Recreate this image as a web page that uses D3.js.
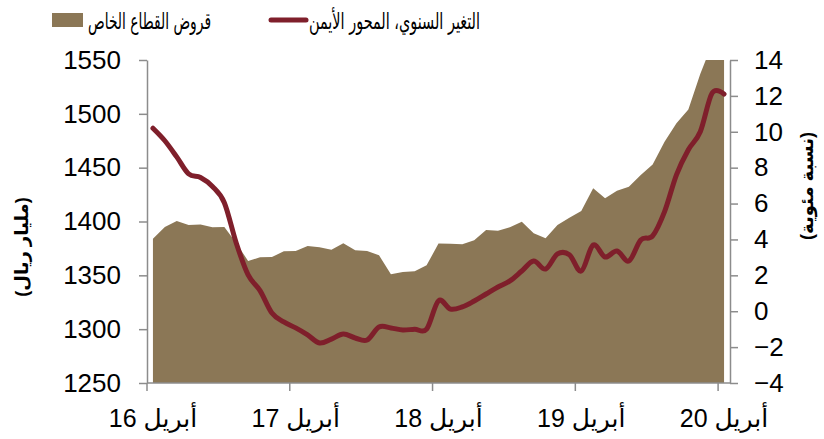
<!DOCTYPE html>
<html>
<head>
<meta charset="utf-8">
<script src="https://cdn.jsdelivr.net/npm/d3@7"></script>
<style>
  body { margin: 0; background: #fff; }
  svg { display: block; font-family: "Liberation Sans", Arial, "DejaVu Sans", sans-serif; }
</style>
</head>
<body>
<svg id="chart" width="824" height="439"></svg>
<script>
// monthly categories, april 2016 .. april 2020
const months = d3.timeMonth.range(new Date(2016, 3, 1), new Date(2020, 4, 1)).map(d3.timeFormat('%Y-%m'))

// private sector loans, billion riyals (left axis)
const loans = [
  1384, 1395, 1400.5, 1396.7, 1397.3, 1394.6, 1394.9, 1380, 1363.3, 1366.7, 1367, 1372.3,
  1372.6, 1377.2, 1376, 1373.8, 1379.7, 1373.2, 1372.6, 1368.6, 1351, 1353.1, 1353.7, 1359.3,
  1379.5, 1379.4, 1378.8, 1382.5, 1392.1, 1391.5, 1394.6, 1399.8, 1389, 1384.4, 1396.7, 1403.5,
  1409.7, 1430.8, 1421.5, 1428.6, 1432.3, 1443.2, 1453, 1474.1, 1491.2, 1504, 1537, 1565,
  1578
]

// yearly change, percent (right axis)
const growth = [
  10.2, 9.5, 8.6, 7.65, 7.45, 6.95, 6.05, 3.8, 2.02, 1.15, -0.1, -0.6,
  -0.93, -1.32, -1.77, -1.55, -1.27, -1.49, -1.6, -0.88, -0.93, -1.05, -1.0, -1.0,
  0.58, 0.12, 0.24, 0.57, 0.96, 1.35, 1.69, 2.24, 2.8, 2.35, 3.19, 3.15,
  2.24, 3.69, 3.02, 3.36, 2.8, 3.97, 4.2, 5.55, 7.6, 9.0, 10.0, 12.16,
  12.1
]

const leftTicks = [1250, 1300, 1350, 1400, 1450, 1500, 1550]
const rightTicks = [-4, -2, 0, 2, 4, 6, 8, 10, 12, 14]
const xTickIdx = [0, 12, 24, 36, 48]
const xTickLabels = ['أبريل 16', 'أبريل 17', 'أبريل 18', 'أبريل 19', 'أبريل 20']

const areaColor = '#8b7756'
const lineColor = '#7f1f2b'
const axisColor = '#8c8c8c'
const arabicFont = '"DejaVu Sans Condensed", "DejaVu Sans", sans-serif'

const svg = d3.select('#chart')

const x = d3.scaleBand().domain(months).range([147, 730])
const yL = d3.scaleLinear().domain([1250, 1550]).range([383, 60])
const yR = d3.scaleLinear().domain([-4, 14]).range([383, 60])
const cx = i => x(months[i]) + x.bandwidth() / 2

svg.append('clipPath').attr('id', 'plotClip')
  .append('rect')
  .attr('x', 147).attr('y', yL(1550))
  .attr('width', 730 - 147).attr('height', yL(1250) - yL(1550))

// area for loans
svg.append('path')
  .datum(loans)
  .attr('clip-path', 'url(#plotClip)')
  .attr('fill', areaColor)
  .attr('d', d3.area()
    .x((d, i) => cx(i))
    .y0(yL(1250))
    .y1(d => yL(d)))

// axes
function styleAxis(g) {
  g.select('.domain').attr('stroke', axisColor).attr('stroke-width', 1.5)
  g.selectAll('.tick line').attr('stroke', axisColor).attr('stroke-width', 1.5)
  g.selectAll('.tick text')
    .attr('fill', '#000')
    .style('font-size', '26px')
    .style('font-family', '"Liberation Sans", Arial, sans-serif')
}

svg.append('g')
  .attr('transform', 'translate(147,0)')
  .call(d3.axisLeft(yL).tickValues(leftTicks).tickFormat(d3.format('d'))
    .tickSize(8).tickSizeOuter(0).tickPadding(18))
  .call(styleAxis)

svg.append('g')
  .attr('transform', 'translate(730,0)')
  .call(d3.axisRight(yR).tickValues(rightTicks).tickFormat(d3.format('d'))
    .tickSize(8).tickSizeOuter(0).tickPadding(16))
  .call(styleAxis)

// bottom axis, ticks between categories
const xAxis = svg.append('g')
xAxis.append('line')
  .attr('x1', 147).attr('x2', 730)
  .attr('y1', 383).attr('y2', 383)
  .attr('stroke', axisColor).attr('stroke-width', 1.5)
xAxis.selectAll('line.tick')
  .data(xTickIdx)
  .enter().append('line')
  .attr('class', 'tick')
  .attr('x1', i => x(months[i])).attr('x2', i => x(months[i]))
  .attr('y1', 383).attr('y2', 391)
  .attr('stroke', axisColor).attr('stroke-width', 1.5)
xAxis.selectAll('text')
  .data(xTickIdx)
  .enter().append('text')
  .attr('x', i => cx(i))
  .attr('y', 427)
  .attr('text-anchor', 'middle')
  .attr('direction', 'rtl')
  .style('font-size', '25px')
  .text((d, k) => xTickLabels[k])

// yearly change line
svg.append('path')
  .datum(growth)
  .attr('fill', 'none')
  .attr('stroke', lineColor)
  .attr('stroke-width', 5)
  .attr('stroke-linecap', 'round')
  .attr('stroke-linejoin', 'round')
  .attr('d', d3.line()
    .x((d, i) => cx(i))
    .y(d => yR(d))
    .curve(d3.curveCatmullRom.alpha(0)))

// axis titles
svg.append('text')
  .attr('transform', 'translate(28,247) rotate(-90)')
  .attr('text-anchor', 'middle')
  .attr('direction', 'rtl')
  .style('font-size', '18px')
  .style('font-weight', 'bold')
  .text('(مليار ريال)')

svg.append('text')
  .attr('transform', 'translate(813,186) rotate(-90)')
  .attr('text-anchor', 'middle')
  .attr('direction', 'rtl')
  .style('font-size', '18px')
  .style('font-weight', 'bold')
  .text('(نسبة مئوية)')

// legend
svg.append('rect')
  .attr('x', 52).attr('y', 13)
  .attr('width', 31).attr('height', 14)
  .attr('fill', areaColor)
svg.append('text')
  .attr('x', 88).attr('y', 29)
  .attr('textLength', 123)
  .attr('lengthAdjust', 'spacingAndGlyphs')
  .style('font-family', arabicFont)
  .style('font-size', '23px')
  .text('قروض القطاع الخاص')

svg.append('line')
  .attr('x1', 271).attr('x2', 306)
  .attr('y1', 20).attr('y2', 20)
  .attr('stroke', lineColor).attr('stroke-width', 5)
  .attr('stroke-linecap', 'round')
svg.append('text')
  .attr('x', 309).attr('y', 29)
  .attr('textLength', 171)
  .attr('lengthAdjust', 'spacingAndGlyphs')
  .style('font-family', arabicFont)
  .style('font-size', '23px')
  .text('التغير السنوي، المحور الأيمن')
</script>
</body>
</html>
